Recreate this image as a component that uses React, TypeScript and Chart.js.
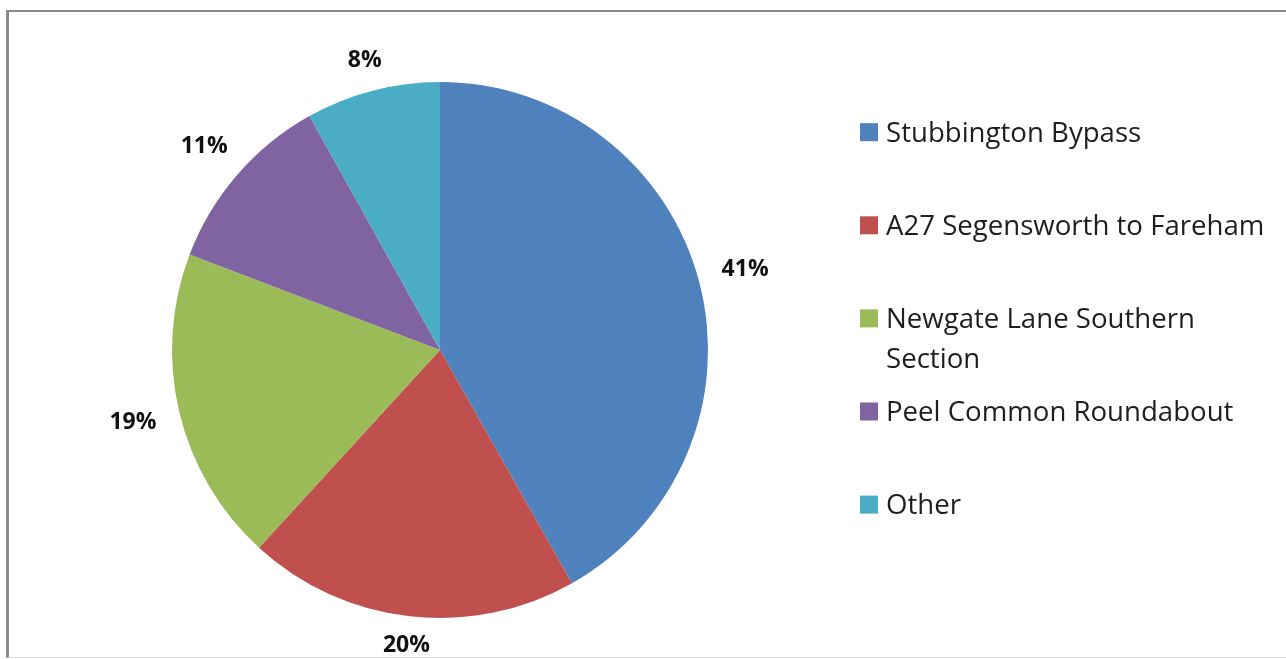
import React, { useEffect, useRef } from "react";
import { Chart, registerables } from "chart.js";

Chart.register(...registerables);

const categories = [
  "Stubbington Bypass",
  "A27 Segensworth to Fareham",
  "Newgate Lane Southern Section",
  "Peel Common Roundabout",
  "Other",
];
const shares = [41.8, 20.0, 19.0, 11.1, 8.1];
const shareLabels = ["41%", "20%", "19%", "11%", "8%"];
const sliceColors = ["#4F81BD", "#C0504D", "#9BBB59", "#8064A2", "#4BACC6"];

const W = 1286;
const H = 659;

const outsideLabels = {
  id: "outsideLabels",
  afterDatasetsDraw(chart: any) {
    const ctx = chart.ctx;
    const meta = chart.getDatasetMeta(0);
    ctx.save();
    ctx.font = "bold 23px 'Open Sans'";
    ctx.fillStyle = "#111111";
    ctx.textAlign = "center";
    ctx.textBaseline = "middle";
    meta.data.forEach((arc: any, i: number) => {
      const { x, y, startAngle, endAngle, outerRadius } = arc.getProps(
        ["x", "y", "startAngle", "endAngle", "outerRadius"],
        true
      );
      const mid = (startAngle + endAngle) / 2;
      const dx = Math.cos(mid);
      const dy = Math.sin(mid);
      const txt = shareLabels[i];
      const w = ctx.measureText(txt).width;
      const h = 6;
      const dist = outerRadius + 24 + Math.abs(dx) * w / 2 + Math.abs(dy) * h / 2;
      ctx.fillText(txt, x + dx * dist, y + dy * dist);
    });
    ctx.restore();
  },
};

const sideLegend = {
  id: "sideLegend",
  afterDraw(chart: any) {
    const ctx = chart.ctx;
    const labels: string[] = chart.data.labels;
    const colors: string[] = chart.data.datasets[0].backgroundColor;
    ctx.save();
    ctx.font = "27.6px 'Open Sans'";
    ctx.textAlign = "left";
    ctx.textBaseline = "alphabetic";
    const markerX = 860;
    const textX = 886;
    const maxWidth = 395;
    const step = 93.1;
    const lineH = 40;
    let baseline = 141.7;
    labels.forEach((lab, i) => {
      const words = lab.split(" ");
      const lines: string[] = [];
      let cur = "";
      words.forEach((wd) => {
        const test = cur ? cur + " " + wd : wd;
        if (ctx.measureText(test).width > maxWidth && cur) {
          lines.push(cur);
          cur = wd;
        } else cur = test;
      });
      if (cur) lines.push(cur);
      const b = baseline + i * step;
      ctx.fillStyle = colors[i];
      ctx.fillRect(markerX, b - 18.5, 18, 18);
      ctx.fillStyle = "#1e1e1e";
      lines.forEach((ln, j) => ctx.fillText(ln, textX, b + j * lineH));
    });
    ctx.restore();
  },
};

export default function App() {
  const ref = useRef<HTMLCanvasElement | null>(null);
  useEffect(() => {
    if (!ref.current) return;
    const chart = new Chart(ref.current, {
      type: "pie",
      data: {
        labels: categories,
        datasets: [
          {
            data: shares,
            backgroundColor: sliceColors,
            borderWidth: 0,
          },
        ],
      },
      options: {
        responsive: false,
        animation: false,
        devicePixelRatio: 1,
        layout: { padding: { left: 172, right: W - 708, top: 82, bottom: H - 618 } },
        plugins: {
          legend: { display: false },
          tooltip: { enabled: false },
        },
      },
      plugins: [outsideLabels, sideLegend],
    });
    return () => chart.destroy();
  }, []);
  return (
    <div
      style={{
        position: "fixed",
        left: 0,
        top: 0,
        width: W,
        height: H,
        overflow: "hidden",
        background: "#ffffff",
      }}
    >
      <div
        style={{
          position: "absolute",
          left: 6,
          top: 10,
          width: 1400,
          height: 648,
          boxSizing: "border-box",
          borderLeft: "3px solid #8a8a8a",
          borderTop: "2px solid #8a8a8a",
          borderBottom: "1px solid #dddddd",
        }}
      />
      <canvas
        ref={ref}
        width={W}
        height={H}
        style={{ position: "absolute", left: 0, top: 0, width: W, height: H }}
      />
    </div>
  );
}
